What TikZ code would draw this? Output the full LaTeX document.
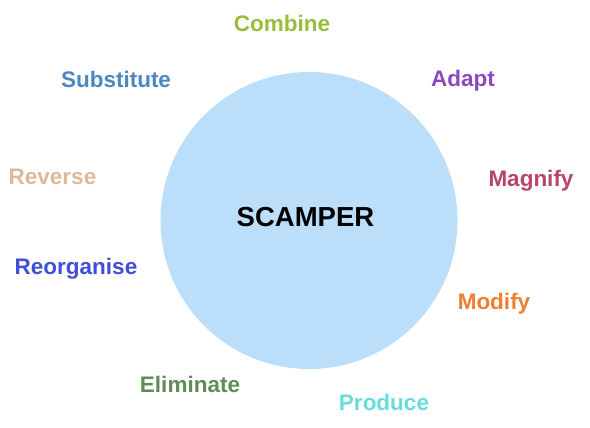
\documentclass[tikz,border=0pt]{standalone}
\usepackage{fontspec}
\setmainfont{Liberation Sans}
\usetikzlibrary{positioning}
\definecolor{scbubble}{HTML}{BBDFFB}
\definecolor{sccombine}{HTML}{9BBB3B}
\definecolor{scsubst}{HTML}{4B87C1}
\definecolor{scadapt}{HTML}{8A49C4}
\definecolor{screverse}{HTML}{DDB99C}
\definecolor{scmagnify}{HTML}{B8436F}
\definecolor{screorg}{HTML}{3F4FD8}
\definecolor{scmodify}{HTML}{F07E2E}
\definecolor{sceliminate}{HTML}{5E8C55}
\definecolor{scproduce}{HTML}{66DDDC}

\begin{document}
\begin{tikzpicture}[
      x=1pt, y=-1pt,
      hub/.style={
        circle, fill=scbubble, draw=none,
        minimum size=297pt, inner sep=0pt
      },
      title/.style={
        anchor=base, inner sep=0pt,
        font=\fontsize{27.5}{30}\selectfont\bfseries
      },
      word/.style={
        anchor=base, inner sep=0pt,
        font=\fontsize{22.5}{25}\selectfont\bfseries
      }
    ]
      \useasboundingbox (0,0) rectangle (590,428);

      \node[hub] (circle) at (309,220.5) {};
      \node[title] (scamper) at (305.5,226.7) {SCAMPER};

      \node[word, sccombine] (combine) at (282,31.7) {Combine};
      \node[word, scsubst] (substitute) at (116,87.7) {Substitute};
      \node[word, scadapt] (adapt) at (463,86.7) {Adapt};
      \node[word, screverse] (reverse) at (52.5,184.7) {Reverse};
      \node[word, scmagnify] (magnify) at (531,186.7) {Magnify};
      \node[word, screorg] (reorganise) at (76,274.3) {Reorganise};
      \node[word, scmodify] (modify) at (494,309.7) {Modify};
      \node[word, sceliminate] (eliminate) at (190,392.3) {Eliminate};
      \node[word, scproduce] (produce) at (384,410) {Produce};
    \end{tikzpicture}
\end{document}
